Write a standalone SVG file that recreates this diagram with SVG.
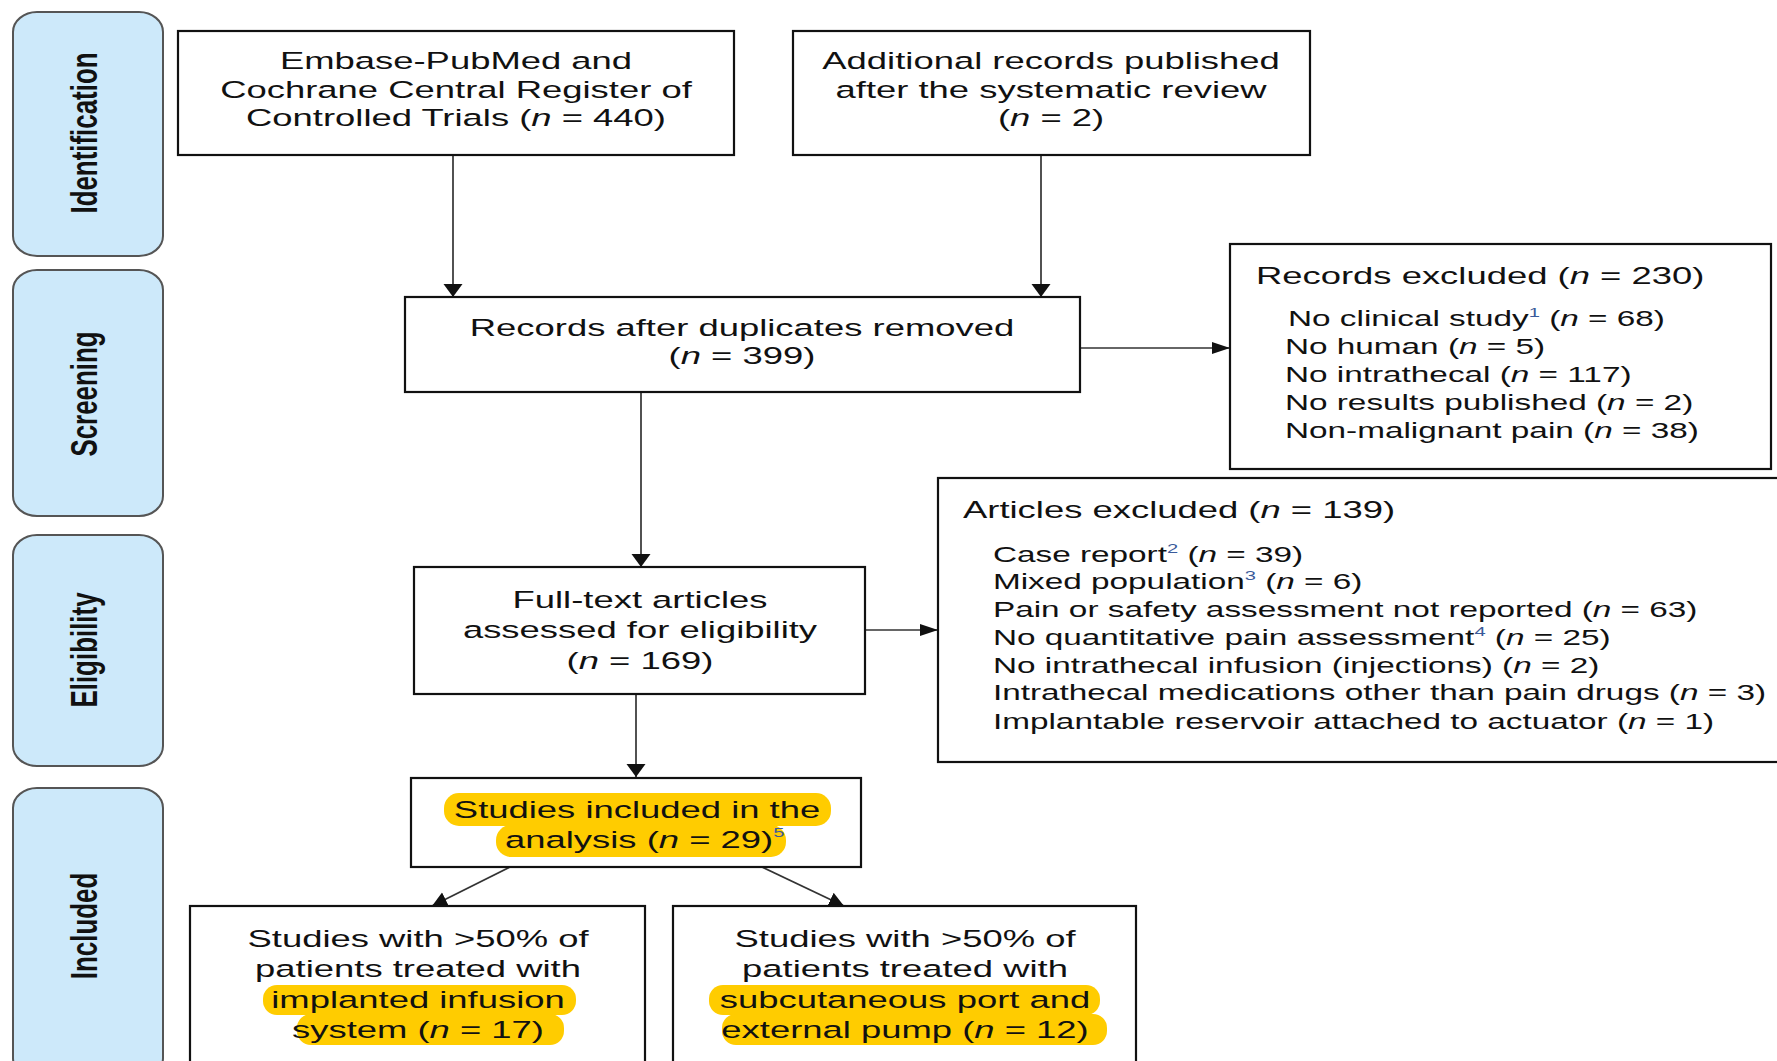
<svg xmlns="http://www.w3.org/2000/svg" width="1777" height="1061" viewBox="0 0 1777 1061">
<defs>
<style>
.panel{fill:#cde9fa;stroke:#555;stroke-width:2}
.box{fill:#fff;stroke:#111;stroke-width:2.2}
.t{font-family:"Liberation Sans",Arial,sans-serif;font-size:23.5px;fill:#111}
.li{font-family:"Liberation Sans",Arial,sans-serif;font-size:21.5px;fill:#111}
.c{text-anchor:middle}
.lab{font-family:"Liberation Sans",Arial,sans-serif;font-size:37px;font-weight:bold;fill:#111;text-anchor:middle}
.hl{fill:#ffcc00}
.sup{font-size:13px;fill:#3a5a9a}
.conn{stroke:#333;stroke-width:1.7;fill:none}
</style>
<marker id="arrV" markerUnits="userSpaceOnUse" markerWidth="14" markerHeight="20" refX="13" refY="9.5" orient="auto"><path d="M0 0 L13 9.5 L0 19 Z" fill="#111"/></marker>
<marker id="arrH" markerUnits="userSpaceOnUse" markerWidth="19" markerHeight="13" refX="18" refY="6" orient="auto"><path d="M0 0 L18 6 L0 12 Z" fill="#111"/></marker>
<marker id="arrD" markerUnits="userSpaceOnUse" markerWidth="16" markerHeight="16" refX="15" refY="7.5" orient="auto"><path d="M0 0 L15 7.5 L0 15 Z" fill="#111"/></marker>
</defs>
<rect width="1777" height="1061" fill="#fff"/>

<g id="panel-identification">
<rect class="panel" x="13" y="12" width="150" height="244" rx="24" ry="20"/>
<text class="lab" transform="translate(97 133) rotate(-90) scale(0.7 1)">Identification</text>
</g>
<g id="panel-screening">
<rect class="panel" x="13" y="270" width="150" height="246" rx="24" ry="20"/>
<text class="lab" transform="translate(97 394) rotate(-90) scale(0.7 1)">Screening</text>
</g>
<g id="panel-eligibility">
<rect class="panel" x="13" y="535" width="150" height="231" rx="24" ry="20"/>
<text class="lab" transform="translate(97 650) rotate(-90) scale(0.7 1)">Eligibility</text>
</g>
<g id="panel-included">
<rect class="panel" x="13" y="788" width="150" height="290" rx="24" ry="20"/>
<text class="lab" transform="translate(97 926) rotate(-90) scale(0.7 1)">Included</text>
</g>

<g id="connectors">
<line class="conn" x1="453" y1="155" x2="453" y2="297" marker-end="url(#arrV)"/>
<line class="conn" x1="1041" y1="155" x2="1041" y2="297" marker-end="url(#arrV)"/>
<line class="conn" x1="1080" y1="348" x2="1230" y2="348" marker-end="url(#arrH)"/>
<line class="conn" x1="641" y1="392" x2="641" y2="567" marker-end="url(#arrV)"/>
<line class="conn" x1="865" y1="630" x2="938" y2="630" marker-end="url(#arrH)"/>
<line class="conn" x1="636" y1="694" x2="636" y2="777" marker-end="url(#arrV)"/>
<line class="conn" x1="510" y1="867" x2="432" y2="906" marker-end="url(#arrD)"/>
<line class="conn" x1="762" y1="867" x2="844" y2="906" marker-end="url(#arrD)"/>
</g>

<g id="node-embase">
<rect class="box" x="178" y="31" width="556" height="124"/>
<g transform="scale(1.55 1)">
<text class="t c" x="294.2" y="69">Embase-PubMed and</text>
<text class="t c" x="294.2" y="98">Cochrane Central Register of</text>
<text class="t c" x="294.2" y="126.5">Controlled Trials (<tspan font-style="italic">n</tspan> = 440)</text>
</g>
</g>

<g id="node-additional">
<rect class="box" x="793" y="31" width="517" height="124"/>
<g transform="scale(1.55 1)">
<text class="t c" x="678.1" y="69">Additional records published</text>
<text class="t c" x="678.1" y="98">after the systematic review</text>
<text class="t c" x="678.1" y="126.5">(<tspan font-style="italic">n</tspan> = 2)</text>
</g>
</g>

<g id="node-dedup">
<rect class="box" x="405" y="297" width="675" height="95"/>
<g transform="scale(1.55 1)">
<text class="t c" x="478.7" y="336">Records after duplicates removed</text>
<text class="t c" x="478.7" y="364.5">(<tspan font-style="italic">n</tspan> = 399)</text>
</g>
</g>

<g id="node-records-excluded">
<rect class="box" x="1230" y="244" width="541" height="225"/>
<g transform="scale(1.55 1)">
<text class="t" x="810.3" y="284">Records excluded (<tspan font-style="italic">n</tspan> = 230)</text>
<text class="li" x="831" y="326">No clinical study<tspan class="sup" dy="-9">1</tspan><tspan dy="9"> (</tspan><tspan font-style="italic">n</tspan> = 68)</text>
<text class="li" x="829" y="354">No human (<tspan font-style="italic">n</tspan> = 5)</text>
<text class="li" x="829" y="382">No intrathecal (<tspan font-style="italic">n</tspan> = 117)</text>
<text class="li" x="829" y="410">No results published (<tspan font-style="italic">n</tspan> = 2)</text>
<text class="li" x="829" y="438">Non-malignant pain (<tspan font-style="italic">n</tspan> = 38)</text>
</g>
</g>

<g id="node-fulltext">
<rect class="box" x="414" y="567" width="451" height="127"/>
<g transform="scale(1.55 1)">
<text class="t c" x="412.9" y="608">Full-text articles</text>
<text class="t c" x="412.9" y="638">assessed for eligibility</text>
<text class="t c" x="412.9" y="669">(<tspan font-style="italic">n</tspan> = 169)</text>
</g>
</g>

<g id="node-articles-excluded">
<rect class="box" x="938" y="478" width="860" height="284"/>
<g transform="scale(1.55 1)">
<text class="t" x="621.3" y="518.5">Articles excluded (<tspan font-style="italic">n</tspan> = 139)</text>
<text class="li" x="640.6" y="562">Case report<tspan class="sup" dy="-9">2</tspan><tspan dy="9"> (</tspan><tspan font-style="italic">n</tspan> = 39)</text>
<text class="li" x="640.6" y="589.5">Mixed population<tspan class="sup" dy="-9">3</tspan><tspan dy="9"> (</tspan><tspan font-style="italic">n</tspan> = 6)</text>
<text class="li" x="640.6" y="617">Pain or safety assessment not reported (<tspan font-style="italic">n</tspan> = 63)</text>
<text class="li" x="640.6" y="645">No quantitative pain assessment<tspan class="sup" dy="-9">4</tspan><tspan dy="9"> (</tspan><tspan font-style="italic">n</tspan> = 25)</text>
<text class="li" x="640.6" y="673">No intrathecal infusion (injections) (<tspan font-style="italic">n</tspan> = 2)</text>
<text class="li" x="640.6" y="700.5">Intrathecal medications other than pain drugs (<tspan font-style="italic">n</tspan> = 3)</text>
<text class="li" x="640.6" y="729">Implantable reservoir attached to actuator (<tspan font-style="italic">n</tspan> = 1)</text>
</g>
</g>

<g id="node-included">
<rect class="box" x="411" y="778" width="450" height="89"/>
<rect class="hl" x="444" y="793" width="387" height="33" rx="15"/>
<rect class="hl" x="496" y="825" width="290" height="32" rx="15"/>
<g transform="scale(1.55 1)">
<text class="t c" x="411" y="818">Studies included in the</text>
<text class="t" x="325.8" y="848">analysis (<tspan font-style="italic">n</tspan> = 29)<tspan class="sup" dy="-11">5</tspan></text>
</g>
</g>

<g id="node-implanted">
<rect class="box" x="190" y="906" width="455" height="175"/>
<rect class="hl" x="263" y="985" width="313" height="30" rx="14"/>
<rect class="hl" x="297" y="1014" width="267" height="31" rx="14"/>
<g transform="scale(1.55 1)">
<text class="t c" x="269.7" y="947">Studies with &gt;50% of</text>
<text class="t c" x="269.7" y="977.5">patients treated with</text>
<text class="t c" x="269.7" y="1008">implanted infusion</text>
<text class="t c" x="269.7" y="1038.5">system (<tspan font-style="italic">n</tspan> = 17)</text>
</g>
</g>

<g id="node-port">
<rect class="box" x="673" y="906" width="463" height="175"/>
<rect class="hl" x="709" y="985" width="391" height="30" rx="14"/>
<rect class="hl" x="722" y="1014" width="385" height="31" rx="14"/>
<g transform="scale(1.55 1)">
<text class="t c" x="583.9" y="947">Studies with &gt;50% of</text>
<text class="t c" x="583.9" y="977.5">patients treated with</text>
<text class="t c" x="583.9" y="1008">subcutaneous port and</text>
<text class="t c" x="583.9" y="1038.5">external pump (<tspan font-style="italic">n</tspan> = 12)</text>
</g>
</g>
</svg>
